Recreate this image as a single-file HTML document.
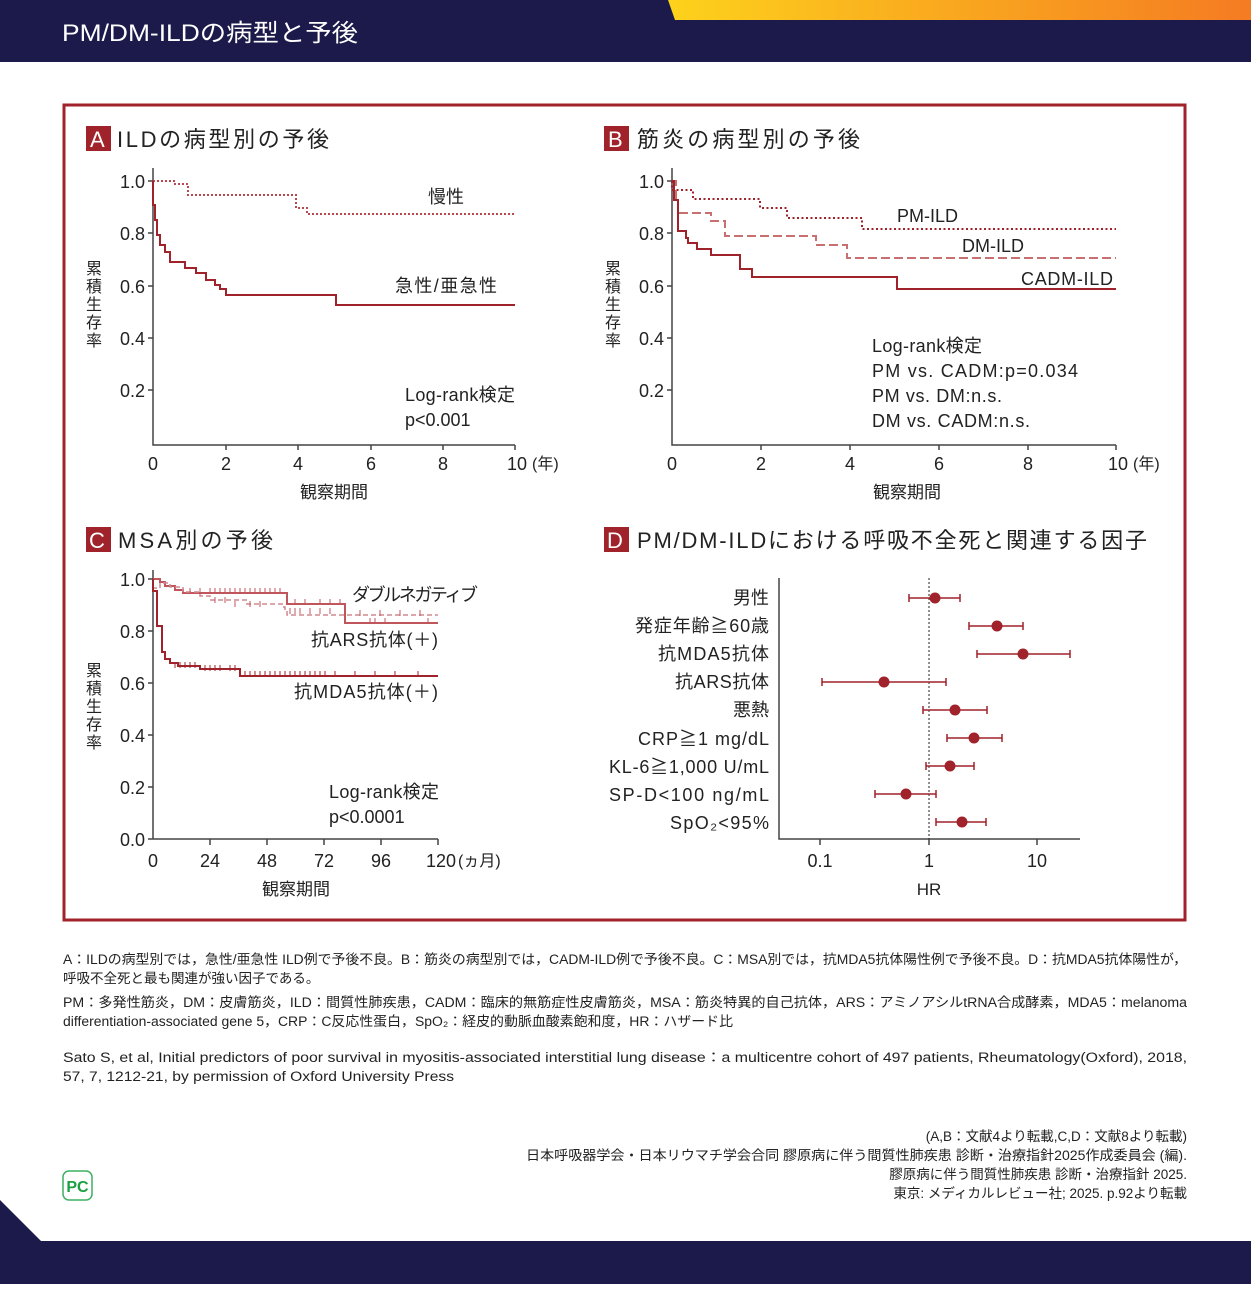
<!DOCTYPE html>
<html><head><meta charset="utf-8"><style>
html,body{margin:0;padding:0;background:#fff}
body{width:1251px;height:1284px;overflow:hidden;position:relative;font-family:"Liberation Sans","Noto Sans CJK JP",sans-serif}
svg text{font-family:"Liberation Sans","Noto Sans CJK JP",sans-serif}
</style></head><body>
<svg width="1251" height="1284" viewBox="0 0 1251 1284" xmlns="http://www.w3.org/2000/svg">
<defs><linearGradient id="g" x1="0" x2="1"><stop offset="0" stop-color="#fdd21c"/><stop offset="1" stop-color="#f57b22"/></linearGradient></defs>
<rect x="0" y="0" width="1251" height="62" fill="#1b1a4b"/>
<polygon points="668,0 1251,0 1251,20 675,20" fill="url(#g)"/>
<text x="62" y="41" fill="#fff" font-size="24" textLength="296" lengthAdjust="spacingAndGlyphs">PM/DM-ILDの病型と予後</text>
<rect x="64" y="105" width="1121" height="815" fill="none" stroke="#a0222a" stroke-width="3"/>
<g font-size="22" fill="#222">
<rect x="86" y="126" width="25" height="25" fill="#a0222a"/><text x="90" y="147" fill="#fff">A</text><text x="117" y="147" textLength="212">ILDの病型別の予後</text>
<rect x="604" y="126" width="25" height="25" fill="#a0222a"/><text x="608" y="147" fill="#fff">B</text><text x="637" y="147" textLength="223">筋炎の病型別の予後</text>
<rect x="86" y="527" width="25" height="25" fill="#a0222a"/><text x="89" y="548" fill="#fff">C</text><text x="118" y="548" textLength="155">MSA別の予後</text>
<rect x="604" y="527" width="25" height="25" fill="#a0222a"/><text x="607" y="548" fill="#fff">D</text><text x="637" y="548" textLength="510">PM/DM-ILDにおける呼吸不全死と関連する因子</text>
</g>
<g stroke="#444" stroke-width="1.5" fill="none">
<path d="M153,168V445H515M148,181H153M148,233H153M148,286H153M148,338H153M148,390H153M226,445V450M298,445V450M371,445V450M443,445V450M515,445V450"/>
<path d="M672,168V445H1116M667,181H672M667,233H672M667,286H672M667,338H672M667,390H672M761,445V450M850,445V450M939,445V450M1028,445V450M1116,445V450"/>
<path d="M153,570V839H438M148,579H153M148,631H153M148,683H153M148,735H153M148,787H153M148,839H153M210,839V845M267,839V845M324,839V845M381,839V845M438,839V845"/>
<path d="M779,578V839H1080M820,839V845M929,839V845M1037,839V845"/>
</g>
<g font-size="18" fill="#222" text-anchor="end">
<text x="145" y="188">1.0</text><text x="145" y="240">0.8</text><text x="145" y="293">0.6</text><text x="145" y="345">0.4</text><text x="145" y="397">0.2</text>
<text x="664" y="188">1.0</text><text x="664" y="240">0.8</text><text x="664" y="293">0.6</text><text x="664" y="345">0.4</text><text x="664" y="397">0.2</text>
<text x="145" y="586">1.0</text><text x="145" y="638">0.8</text><text x="145" y="690">0.6</text><text x="145" y="742">0.4</text><text x="145" y="794">0.2</text><text x="145" y="846">0.0</text>
</g>
<g font-size="18" fill="#222" text-anchor="middle">
<text x="153" y="470">0</text><text x="226" y="470">2</text><text x="298" y="470">4</text><text x="371" y="470">6</text><text x="443" y="470">8</text><text x="517" y="470">10</text>
<text x="672" y="470">0</text><text x="761" y="470">2</text><text x="850" y="470">4</text><text x="939" y="470">6</text><text x="1028" y="470">8</text><text x="1118" y="470">10</text>
<text x="153" y="867">0</text><text x="210" y="867">24</text><text x="267" y="867">48</text><text x="324" y="867">72</text><text x="381" y="867">96</text><text x="441" y="867">120</text>
<text x="820" y="867">0.1</text><text x="929" y="867">1</text><text x="1037" y="867">10</text>
<text x="334" y="498" font-size="17">観察期間</text><text x="907" y="498" font-size="17">観察期間</text><text x="296" y="895" font-size="17">観察期間</text><text x="929" y="895" font-size="17">HR</text>
</g>
<g font-size="16" fill="#222"><text x="532" y="469">(年)</text><text x="1133" y="469">(年)</text><text x="458" y="866">(ヵ月)</text></g>
<g font-size="16" fill="#222" text-anchor="middle">
<text x="94" y="274">累</text><text x="94" y="292">積</text><text x="94" y="310">生</text><text x="94" y="328">存</text><text x="94" y="346">率</text>
<text x="613" y="274">累</text><text x="613" y="292">積</text><text x="613" y="310">生</text><text x="613" y="328">存</text><text x="613" y="346">率</text>
<text x="94" y="676">累</text><text x="94" y="694">積</text><text x="94" y="712">生</text><text x="94" y="730">存</text><text x="94" y="748">率</text>
</g>
<!-- Panel A -->
<g fill="none" stroke-width="2">
<path d="M153,181H175V184H188V195H296V208H307V214H515" stroke="#b9474f" stroke-dasharray="2,2"/>
<path d="M153,181V205H155V220H157V235H160V245H165V252H170V262H185V268H196V273H206V280H215V285H220V289H226V295H247H336V305H515" stroke="#a0222a"/>
</g>
<g font-size="18" fill="#222"><text x="428" y="203">慢性</text><text x="395" y="292" textLength="102">急性/亜急性</text><text x="405" y="401" textLength="110">Log-rank検定</text><text x="405" y="426">p&lt;0.001</text></g>
<!-- Panel B -->
<g fill="none" stroke-width="2">
<path d="M672,181V190H693V199H760V208H787V218H862V229H1116" stroke="#a0222a" stroke-dasharray="2,2.5"/>
<path d="M672,181H676V200H678V213H711V221H725V236H816V245H847V258H1116" stroke="#c87070" stroke-dasharray="9,4"/>
<path d="M672,181H674V200H678V231H686V238H688V243H697V249H711V255H740V269H752V277H897V289H1116" stroke="#a0222a"/>
</g>
<g font-size="18" fill="#222"><text x="897" y="222">PM-ILD</text><text x="962" y="252">DM-ILD</text><text x="1021" y="285" textLength="92">CADM-ILD</text>
<text x="872" y="352" textLength="110">Log-rank検定</text><text x="872" y="377" textLength="206">PM vs. CADM:p=0.034</text><text x="872" y="402" textLength="130">PM vs. DM:n.s.</text><text x="872" y="427" textLength="158">DM vs. CADM:n.s.</text></g>
<!-- Panel C -->
<g fill="none" stroke-width="2">
<path d="M153,579H160V582H165V586H175V590H183V593H287V604H345V623H438" stroke="#c0555c"/>
<path d="M153,579V588H160V583H170V587H183V592H200V596H210V600H247V604H283V607H285V611H287V615H438" stroke="#d08a8f" stroke-width="1.5" stroke-dasharray="5,3"/>
<path d="M153,579V591H157V626H162V652H165V659H170V663H178V666H200V669H240V676H438" stroke="#a0222a"/>
</g>
<g stroke="#c0555c" stroke-width="1">
<path d="M190,588v6M200,588v6M210,588v6M215,588v6M220,588v6M225,588v6M230,588v6M235,588v6M240,588v6M245,588v6M250,588v6M255,588v6M260,588v6M265,588v6M270,588v6M275,588v6M280,588v6M295,599v6M305,599v6M320,599v6M330,599v6M340,599v6M370,618v6M375,618v6M385,618v6M428,618v6"/>
<path d="M215,597v6M225,597v6M235,601v6M250,601v6M260,601v6M290,608v6M295,608v6M300,608v6M310,608v6M320,608v6M330,608v6M345,610v6M360,610v6M380,610v6M400,610v6M420,610v6"/>
<path stroke="#a0222a" d="M175,662v6M180,662v6M185,662v6M190,662v6M195,662v6M205,665v6M210,665v6M215,665v6M220,665v6M230,665v6M235,665v6M245,671v6M250,671v6M255,671v6M260,671v6M265,671v6M270,671v6M275,671v6M280,671v6M285,671v6M290,671v6M295,671v6M300,671v6M305,671v6M310,671v6M315,671v6M320,671v6M325,671v6M335,671v6M355,671v6M375,671v6M395,671v6M418,671v6"/>
</g>
<g font-size="18" fill="#222"><text x="352" y="601" textLength="126">ダブルネガティブ</text><text x="311" y="646" textLength="127">抗ARS抗体(＋)</text><text x="294" y="698" textLength="144">抗MDA5抗体(＋)</text>
<text x="329" y="798" textLength="110">Log-rank検定</text><text x="329" y="823">p&lt;0.0001</text></g>
<!-- Panel D -->
<path d="M929,578V839" stroke="#222" stroke-width="1" stroke-dasharray="2,2"/>
<g stroke="#a0222a" stroke-width="1.5" fill="none">
<path d="M909,598H960M909,594v8M960,594v8"/><path d="M969,626H1023M969,622v8M1023,622v8"/>
<path d="M977,654H1070M977,650v8M1070,650v8"/><path d="M822,682H946M822,678v8M946,678v8"/>
<path d="M923,710H987M923,706v8M987,706v8"/><path d="M947,738H1002M947,734v8M1002,734v8"/>
<path d="M926,766H974M926,762v8M974,762v8"/><path d="M875,794H936M875,790v8M936,790v8"/>
<path d="M936,822H986M936,818v8M986,818v8"/>
</g>
<g fill="#a0222a"><circle cx="935" cy="598" r="5.5"/><circle cx="997" cy="626" r="5.5"/><circle cx="1023" cy="654" r="5.5"/><circle cx="884" cy="682" r="5.5"/><circle cx="955" cy="710" r="5.5"/><circle cx="974" cy="738" r="5.5"/><circle cx="950" cy="766" r="5.5"/><circle cx="906" cy="794" r="5.5"/><circle cx="962" cy="822" r="5.5"/></g>
<g font-size="18" fill="#222" text-anchor="end">
<text x="769" y="604">男性</text><text x="769" y="632" textLength="134">発症年齢≧60歳</text><text x="769" y="660" textLength="111">抗MDA5抗体</text><text x="769" y="688" textLength="94">抗ARS抗体</text><text x="769" y="716">悪熱</text><text x="769" y="745" textLength="131">CRP≧1 mg/dL</text><text x="769" y="773" textLength="160">KL-6≧1,000 U/mL</text><text x="769" y="801" textLength="160">SP-D&lt;100 ng/mL</text><text x="769" y="829" textLength="99">SpO₂&lt;95%</text>
</g>
<g font-size="13.5" fill="#222">
<text x="63" y="964" textLength="1124" lengthAdjust="spacingAndGlyphs">A：ILDの病型別では，急性/亜急性 ILD例で予後不良。B：筋炎の病型別では，CADM-ILD例で予後不良。C：MSA別では，抗MDA5抗体陽性例で予後不良。D：抗MDA5抗体陽性が，</text>
<text x="63" y="983">呼吸不全死と最も関連が強い因子である。</text>
<text x="63" y="1007" textLength="1124" lengthAdjust="spacingAndGlyphs">PM：多発性筋炎，DM：皮膚筋炎，ILD：間質性肺疾患，CADM：臨床的無筋症性皮膚筋炎，MSA：筋炎特異的自己抗体，ARS：アミノアシルtRNA合成酵素，MDA5：melanoma</text>
<text x="63" y="1026" textLength="670" lengthAdjust="spacingAndGlyphs">differentiation-associated gene 5，CRP：C反応性蛋白，SpO₂：経皮的動脈血酸素飽和度，HR：ハザード比</text>
<text x="63" y="1062" textLength="1124" lengthAdjust="spacingAndGlyphs">Sato S, et al, Initial predictors of poor survival in myositis-associated interstitial lung disease：a multicentre cohort of 497 patients, Rheumatology(Oxford), 2018,</text>
<text x="63" y="1081" textLength="391" lengthAdjust="spacingAndGlyphs">57, 7, 1212-21, by permission of Oxford University Press</text>
</g>
<g font-size="13.5" fill="#222" text-anchor="end">
<text x="1187" y="1141">(A,B：文献4より転載,C,D：文献8より転載)</text>
<text x="1187" y="1160" textLength="661" lengthAdjust="spacingAndGlyphs">日本呼吸器学会・日本リウマチ学会合同 膠原病に伴う間質性肺疾患 診断・治療指針2025作成委員会 (編).</text>
<text x="1187" y="1179">膠原病に伴う間質性肺疾患 診断・治療指針 2025.</text>
<text x="1187" y="1198">東京: メディカルレビュー社; 2025. p.92より転載</text>
</g>
<rect x="63" y="1171" width="29" height="29" rx="6" fill="#fff" stroke="#3cb060" stroke-width="1.5"/>
<text x="77.5" y="1192" font-size="16" font-weight="bold" fill="#1aa040" text-anchor="middle">PC</text>
<polygon points="0,1200 41,1241 1251,1241 1251,1284 0,1284" fill="#1b1a4b"/>
</svg>
</body></html>
